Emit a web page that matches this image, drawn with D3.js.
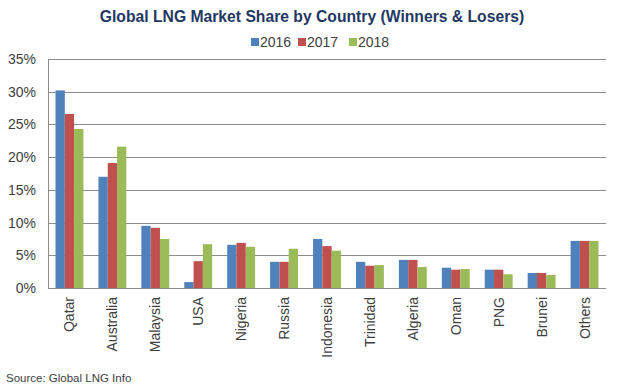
<!DOCTYPE html>
<html>
<head>
<meta charset="utf-8">
<script src="https://cdn.jsdelivr.net/npm/d3@7"></script>
<style>
  body { margin: 0; background: #fff; }
  text { font-family: "Liberation Sans", Arial, sans-serif; }
</style>
</head>
<body>
<div class="chart"></div>
<script>
var countries = ["Qatar", "Australia", "Malaysia", "USA", "Nigeria", "Russia", "Indonesia",
  "Trinidad", "Algeria", "Oman", "PNG", "Brunei", "Others"];
var years = ["2016", "2017", "2018"];
var share2016 = [30.2, 17.0, 9.5, 0.9, 6.6, 4.0, 7.5, 4.0, 4.3, 3.1, 2.8, 2.3, 7.2];
var share2017 = [26.6, 19.1, 9.2, 4.1, 6.9, 4.0, 6.4, 3.4, 4.3, 2.8, 2.8, 2.3, 7.2];
var share2018 = [24.3, 21.6, 7.5, 6.7, 6.3, 6.0, 5.7, 3.5, 3.2, 2.9, 2.1, 2.0, 7.2];
var yTicks = [0, 5, 10, 15, 20, 25, 30, 35];
var colors = ["#4F81BD", "#C0504D", "#9BBB59"];

var series = [share2016, share2017, share2018];

var width = 620, height = 390;
var margin = {top: 59, right: 14, bottom: 102, left: 48};

var svg = d3.select(".chart").append("svg")
    .attr("width", width)
    .attr("height", height);

// title
svg.append("text")
    .attr("x", 312)
    .attr("y", 22)
    .attr("text-anchor", "middle")
    .style("font-size", "15.7px")
    .style("font-weight", "bold")
    .attr("fill", "#1F3864")
    .text("Global LNG Market Share by Country (Winners & Losers)");

// legend
var legendX = [251, 298, 349];
var legend = svg.selectAll(".legend")
    .data(years)
    .enter().append("g")
      .attr("class", "legend")
      .attr("transform", function(d, i) { return "translate(" + legendX[i] + ",37)"; });
legend.append("rect")
    .attr("width", 8)
    .attr("height", 8)
    .attr("y", 1)
    .attr("fill", function(d, i) { return colors[i]; });
legend.append("text")
    .attr("x", 9)
    .attr("y", 10)
    .style("font-size", "14px")
    .attr("fill", "#404040")
    .text(function(d) { return d; });

var x = d3.scaleBand()
    .domain(countries)
    .range([margin.left, width - margin.right])
    .paddingInner(0.35)
    .paddingOuter(0.175);

var xInner = d3.scaleBand()
    .domain(years)
    .range([0, x.bandwidth()]);

var y = d3.scaleLinear()
    .domain([0, 35])
    .range([height - margin.bottom, margin.top]);

// grid lines
svg.append("g")
    .selectAll("line")
    .data(yTicks)
    .enter().append("line")
      .attr("x1", margin.left)
      .attr("x2", width - margin.right)
      .attr("y1", function(d) { return Math.round(y(d)) + 0.5; })
      .attr("y2", function(d) { return Math.round(y(d)) + 0.5; })
      .attr("stroke", "#8c8c8c")
      .attr("stroke-width", 1);

// y labels
svg.append("g")
    .selectAll("text")
    .data(yTicks)
    .enter().append("text")
      .attr("x", margin.left - 12)
      .attr("y", function(d) { return y(d) + 5; })
      .attr("text-anchor", "end")
      .style("font-size", "14px")
      .attr("fill", "#404040")
      .text(function(d) { return d + "%"; });

// bars
var groups = svg.append("g")
    .selectAll("g")
    .data(countries)
    .enter().append("g")
      .attr("transform", function(d) { return "translate(" + x(d) + ",0)"; });

groups.selectAll("rect")
    .data(function(d, ci) {
      return years.map(function(yr, si) { return {year: yr, value: series[si][ci], idx: si}; });
    })
    .enter().append("rect")
      .attr("x", function(d) { return xInner(d.year); })
      .attr("width", xInner.bandwidth())
      .attr("y", function(d) { return y(d.value); })
      .attr("height", function(d) { return y(0) - y(d.value); })
      .attr("fill", function(d) { return colors[d.idx]; });

// axis lines
svg.append("line")
    .attr("x1", margin.left + 0.5).attr("x2", margin.left + 0.5)
    .attr("y1", margin.top).attr("y2", y(0))
    .attr("stroke", "#8c8c8c");
svg.append("line")
    .attr("x1", margin.left).attr("x2", width - margin.right)
    .attr("y1", Math.round(y(0)) + 0.5).attr("y2", Math.round(y(0)) + 0.5)
    .attr("stroke", "#8c8c8c");

// x labels
svg.append("g")
    .selectAll("text")
    .data(countries)
    .enter().append("text")
      .attr("transform", function(d) {
        return "translate(" + (x(d) + x.bandwidth() / 2 + 5) + "," + (y(0) + 9) + ") rotate(-90)";
      })
      .attr("text-anchor", "end")
      .style("font-size", "14px")
      .attr("fill", "#404040")
      .text(function(d) { return d; });

// source
svg.append("text")
    .attr("x", 6)
    .attr("y", 382)
    .style("font-size", "11.5px")
    .attr("fill", "#404040")
    .text("Source: Global LNG Info");
</script>
</body>
</html>
